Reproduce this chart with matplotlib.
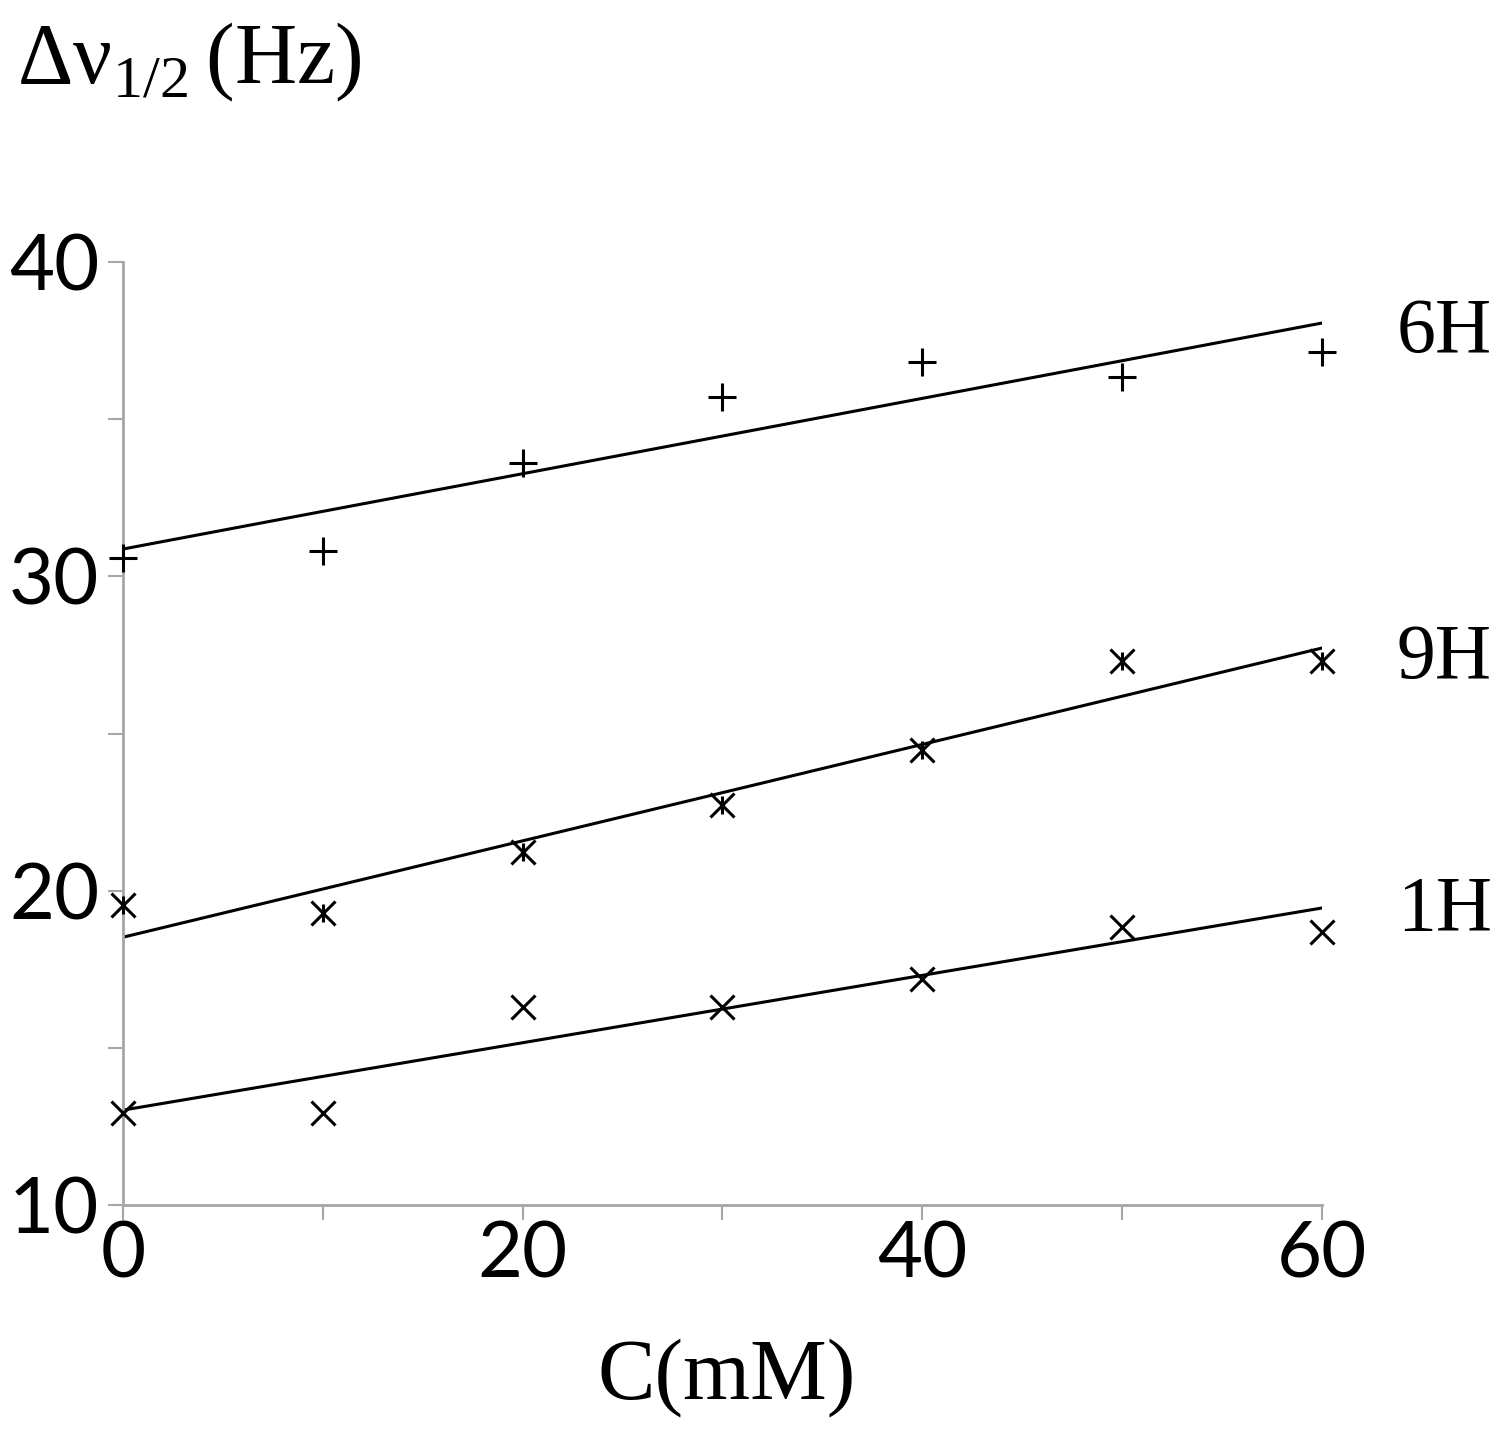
import matplotlib.pyplot as plt
import numpy as np

plt.rcParams['mathtext.fontset'] = 'custom'
plt.rcParams['mathtext.rm'] = 'Liberation Serif'

conc = [0, 10, 20, 30, 40, 50, 60]
h6 = [30.6, 30.8, 33.6, 35.7, 36.82, 36.34, 37.14]
h9 = [19.54, 19.29, 21.23, 22.72, 24.47, 27.3, 27.3]
h1 = [12.92, 12.92, 16.3, 16.3, 17.19, 18.84, 18.68]

# trendlines (value at 0, value at 60)
fit6 = [30.87, 38.06]
fit9 = [18.52, 27.72]
fit1 = [13.02, 19.45]

labels = ['6H', '9H', '1H']
label_y = [37.75, 27.35, 19.35]

fig = plt.figure(figsize=(15, 14.32), dpi=100)
ax = fig.add_axes([0.082, 0.1585, 0.7993, 0.6585])

line_x = [0, 60]
for fit in [fit6, fit9, fit1]:
    ax.plot(line_x, fit, color='black', lw=2.2, zorder=2)

ax.plot(conc, h6, ls='none', marker='+', ms=20, mew=2.2, color='black', clip_on=False, zorder=3)
ax.plot(conc, h9, ls='none', marker='x', ms=17, mew=2.2, color='black', clip_on=False, zorder=3)
ax.plot(conc, h9, ls='none', marker='|', ms=13, mew=2.2, color='black', clip_on=False, zorder=3)
ax.plot(conc, h1, ls='none', marker='x', ms=17, mew=2.2, color='black', clip_on=False, zorder=3)

ax.set_xlim(0, 60)
ax.set_ylim(10, 40)
ax.set_xticks([0, 20, 40, 60])
ax.set_xticks([10, 30, 50], minor=True)
ax.set_yticks([10, 20, 30, 40])
ax.set_yticks([15, 25, 35], minor=True)

for s in ['top', 'right']:
    ax.spines[s].set_visible(False)
for s in ['left', 'bottom']:
    ax.spines[s].set_color('#a6a6a6')
    ax.spines[s].set_linewidth(2.0)

ax.tick_params(which='both', direction='out', color='#a6a6a6', width=1.5, length=11)
ax.tick_params(axis='y', which='major', pad=6)
ax.tick_params(axis='x', which='major', pad=0)
for t in ax.get_xticklabels() + ax.get_yticklabels():
    t.set_family('Lato')
    t.set_fontsize(56)

# series labels at the right end
for lab, yy in zip(labels, label_y):
    ax.text(1.0 + 75 / 1199, yy, lab, transform=ax.get_yaxis_transform(),
            family='Liberation Serif', fontsize=56, va='center', ha='left')

fig.text(727 / 1500, 1 - 1398 / 1432, 'C(mM)', family='Liberation Serif',
         fontsize=62, ha='center', va='baseline')
fig.text(17 / 1500, 1 - 83 / 1432, r'Δν$_{\mathrm{1/2}}\,$(Hz)', family='Liberation Serif',
         fontsize=62, ha='left', va='baseline')

fig.savefig('out.png', dpi=100)
